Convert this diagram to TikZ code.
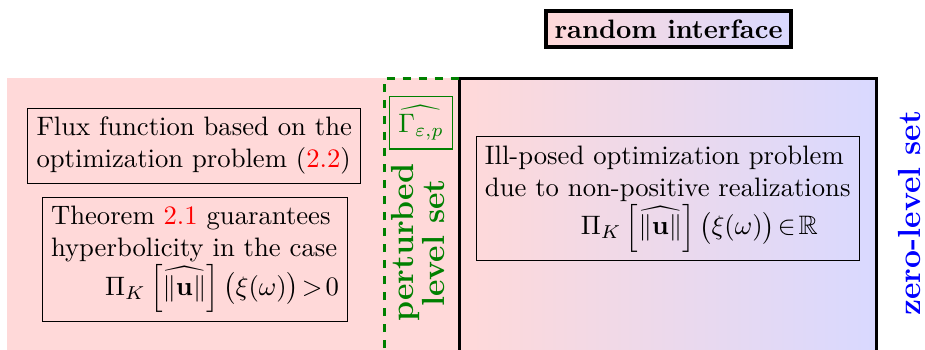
\documentclass[tikz,border=0pt]{standalone}
\usepackage{amsmath,amssymb}
\begin{document}
\begin{tikzpicture}[thick,
  infobox/.style={draw,thin,align=left},
  lsetlabel/.style={rotate=90,align=center,font=\large\bfseries}]
\useasboundingbox (0,0) rectangle (12.19,4.60);
\begin{scope}
\clip (0,0) rectangle (12.19,4.60);
% regions
\fill[red!15] (0.09,-0.2) rectangle (6.06,3.57);
\shade[left color=red!15,right color=blue!15] (6.06,-0.2) rectangle (11.55,3.57);
\draw[very thick] (6.06,-0.2)--(6.06,3.57)--(11.55,3.57)--(11.55,-0.2);
\draw[very thick,dashed,green!50!black] (5.07,-0.2)--(5.07,3.57)--(6.06,3.57);
\end{scope}

\node[draw,line width=1.5pt,left color=red!15,right color=blue!15,font=\bfseries](RI) at (8.81,4.22){random interface};
\node[draw,thin,green!50!black](G) at (5.55,2.98){$\widehat{\Gamma_{\varepsilon,p}}$};
\node[lsetlabel,text=green!50!black](P) at (5.51,1.40){perturbed\\[-2.5pt]level set};
\node[lsetlabel,text=blue](Z) at (11.99,1.79){zero-level set};

\node[infobox](A) at (2.56,2.68){Flux function based on the\\optimization problem (\textcolor{red}{2.2})};
\node[infobox,text width=108pt](B) at (2.57,1.18){Theorem \textcolor{red}{2.1} guarantees\\hyperbolicity in the case\\
  \mbox{}\hfill$\Pi_K\left[\widehat{\|\mathbf{u}\|}\right]\bigl(\xi(\omega)\bigr)\!>\!0$};
\node[infobox](C) at (8.80,1.98){Ill-posed optimization problem\\due to non-positive realizations\\
  \hspace*{3.6em}$\Pi_K\left[\widehat{\|\mathbf{u}\|}\right]\bigl(\xi(\omega)\bigr)\!\in\!\mathbb{R}$};
\end{tikzpicture}
\end{document}
